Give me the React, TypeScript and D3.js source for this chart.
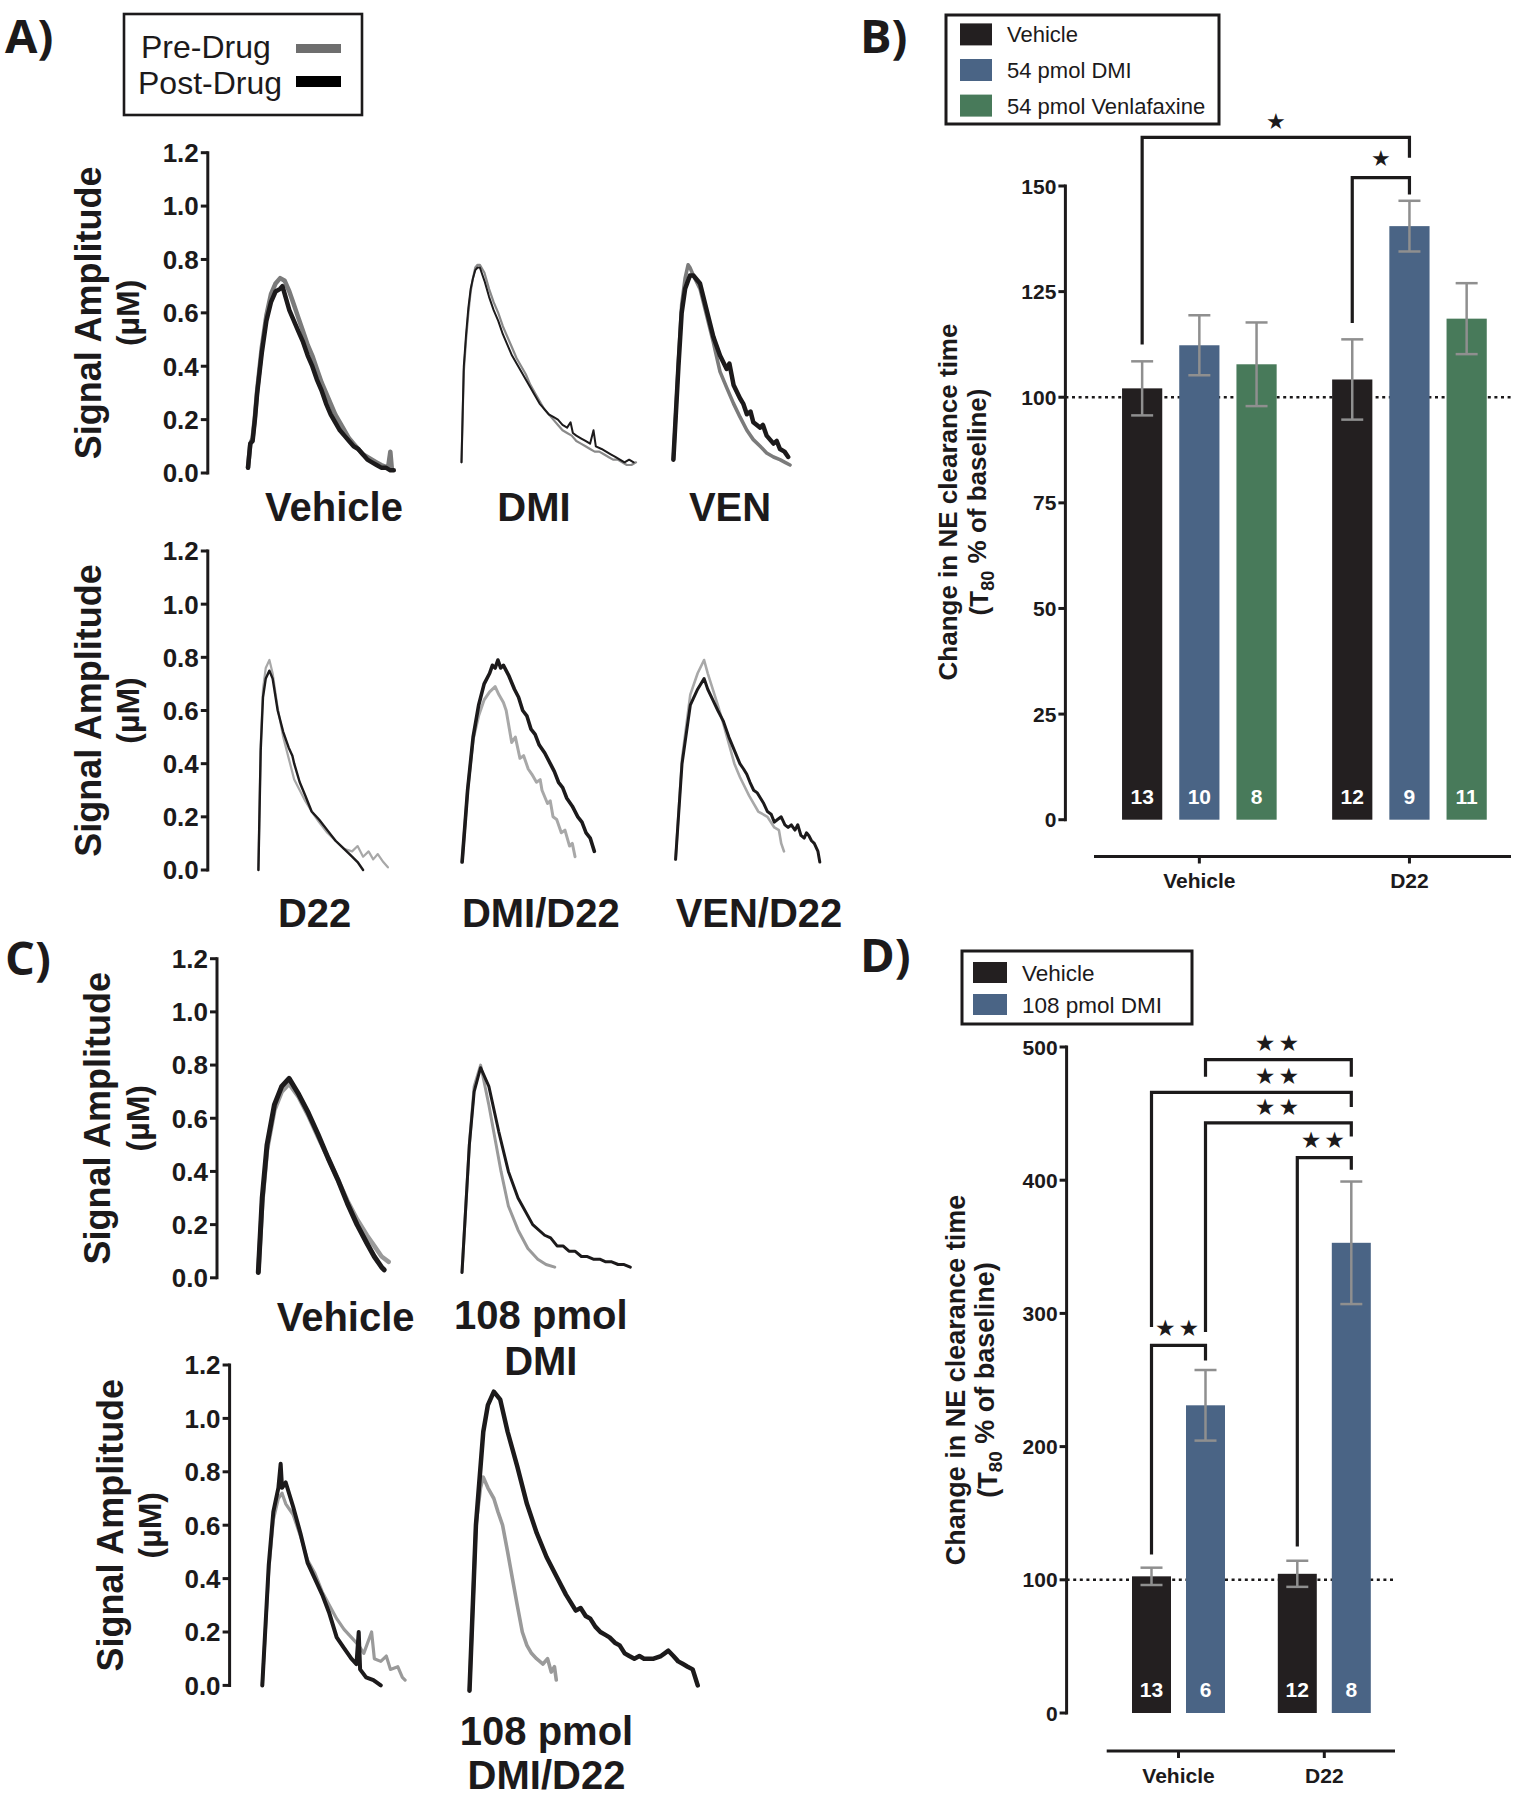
import React from "react";
import * as d3 from "d3";

type Pt = [number, number];

// ---------------- Trace data: [time (s) from trace onset, signal amplitude (µM)] ----------------
// Panel A, top row
const A_VEH_PRE: Pt[] = [[0,0.02],[0.5,0.11],[1,0.13],[1.5,0.21],[2,0.31],[3,0.47],[4,0.59],[5,0.67],[6,0.71],[7,0.73],[8,0.72],[9,0.68],[10,0.63],[11,0.58],[12,0.53],[13,0.48],[14,0.44],[15,0.39],[16,0.34],[17,0.3],[18,0.26],[19,0.22],[20,0.19],[21,0.16],[22,0.13],[23,0.11],[24,0.09],[25,0.07],[26,0.06],[27,0.05],[28,0.04],[29,0.03],[30.5,0.02],[31,0.08],[31.3,0.02]];
const A_VEH_POST: Pt[] = [[0,0.02],[0.5,0.11],[1,0.12],[1.5,0.2],[2,0.3],[3,0.45],[4,0.57],[5,0.64],[6,0.68],[7,0.69],[7.5,0.7],[8,0.67],[9,0.61],[10,0.57],[11,0.53],[12,0.49],[13,0.44],[14,0.4],[15,0.35],[16,0.31],[17,0.26],[18,0.22],[19,0.19],[20,0.16],[21,0.14],[22,0.12],[23,0.1],[24,0.09],[25,0.07],[26,0.05],[27,0.04],[28,0.03],[29,0.02],[30,0.02],[31,0.01],[31.75,0.01]];
const A_DMI_PRE: Pt[] = [[0,0.04],[0.5,0.38],[1,0.5],[1.5,0.6],[2,0.68],[2.5,0.73],[3,0.77],[3.5,0.78],[4,0.78],[5,0.75],[6,0.69],[7,0.64],[8,0.6],[9,0.55],[10,0.51],[11,0.47],[12,0.43],[13,0.4],[14,0.37],[15,0.33],[16,0.3],[17,0.27],[18,0.24],[19,0.22],[20,0.2],[21,0.18],[22,0.16],[23,0.15],[24,0.14],[25,0.12],[26,0.11],[27,0.1],[28,0.09],[29,0.08],[30,0.08],[31,0.07],[32,0.06],[33,0.05],[34,0.05],[35,0.04],[36,0.03],[37,0.03],[38,0.04]];
const A_DMI_POST: Pt[] = [[0,0.04],[0.5,0.4],[1,0.52],[1.5,0.62],[2,0.69],[2.5,0.73],[3,0.76],[3.5,0.77],[4,0.77],[5,0.72],[6,0.66],[7,0.61],[8,0.57],[9,0.52],[10,0.48],[11,0.44],[12,0.41],[13,0.38],[14,0.35],[15,0.32],[16,0.29],[17,0.26],[18,0.24],[19,0.22],[20,0.21],[21,0.2],[22,0.18],[23,0.17],[23.75,0.19],[24.25,0.15],[25,0.14],[26,0.13],[27,0.12],[28,0.11],[28.75,0.16],[29.25,0.1],[30.5,0.09],[31.5,0.08],[32.5,0.07],[33.5,0.06],[34.5,0.05],[35.5,0.04],[36.5,0.05],[37.5,0.04]];
const A_VEN_PRE: Pt[] = [[0,0.05],[1.1,0.42],[1.8,0.63],[2.55,0.73],[3.2,0.78],[3.6,0.77],[4.35,0.74],[5.8,0.69],[7.25,0.59],[8.7,0.49],[10.15,0.38],[11.6,0.32],[13.1,0.26],[14.5,0.21],[16,0.16],[17.4,0.125],[18.9,0.1],[20.3,0.075],[21.8,0.06],[23.2,0.05],[24.3,0.04],[25.4,0.03]];
const A_VEN_POST: Pt[] = [[0,0.05],[1.1,0.4],[1.8,0.6],[2.55,0.69],[3.6,0.74],[4.35,0.74],[5.8,0.71],[7.25,0.61],[8.7,0.51],[10.15,0.44],[11.6,0.39],[12.2,0.41],[13.1,0.33],[14.5,0.28],[15.2,0.26],[16,0.22],[16.8,0.23],[17.4,0.19],[18.9,0.17],[19.5,0.18],[20.3,0.14],[21.8,0.11],[22.5,0.12],[23.2,0.09],[24.2,0.08],[25,0.06]];
// Panel A, bottom row
const A_D22_PRE: Pt[] = [[0,0],[0.5,0.47],[1,0.68],[1.6,0.76],[2.4,0.79],[3.1,0.74],[4.2,0.61],[5.4,0.5],[6.6,0.42],[7.8,0.34],[9,0.3],[10.2,0.26],[11.6,0.22],[13.2,0.18],[15,0.14],[16.8,0.11],[18.6,0.08],[20.4,0.07],[21.6,0.09],[22.8,0.05],[24,0.07],[25,0.04],[26,0.06],[27.2,0.03],[28.2,0.01]];
const A_D22_POST: Pt[] = [[0,0],[0.5,0.45],[1,0.65],[1.6,0.72],[2.4,0.75],[3.1,0.72],[4.2,0.6],[5.4,0.52],[6.6,0.46],[7.4,0.43],[7.8,0.4],[9,0.33],[10.2,0.28],[11.6,0.22],[13.2,0.19],[15,0.15],[16.8,0.11],[18.6,0.08],[20.4,0.05],[21.6,0.03],[22.8,0]];
const A_DMID22_PRE: Pt[] = [[0,0.03],[1.2,0.3],[2.4,0.49],[3.6,0.58],[4.8,0.64],[6,0.67],[7.2,0.69],[8,0.66],[9,0.63],[9.6,0.6],[10.8,0.48],[11.6,0.5],[12.6,0.42],[13.4,0.43],[14.4,0.38],[15.2,0.36],[16.2,0.33],[17,0.34],[17.4,0.3],[18.6,0.25],[19.2,0.26],[19.8,0.2],[20.6,0.19],[21.6,0.14],[22.4,0.15],[23.4,0.09],[24,0.1],[24.6,0.05]];
const A_DMID22_POST: Pt[] = [[0,0.03],[1.2,0.3],[2.4,0.5],[3.6,0.62],[4.8,0.7],[6,0.74],[6.6,0.77],[7.2,0.76],[7.8,0.79],[8.4,0.76],[9,0.77],[10.2,0.73],[11.4,0.68],[12.3,0.65],[13.2,0.6],[14.1,0.58],[15,0.53],[15.9,0.51],[16.8,0.47],[18,0.44],[19.2,0.4],[20.1,0.37],[21,0.33],[21.9,0.31],[22.8,0.27],[24,0.24],[25.2,0.2],[26.1,0.18],[27,0.14],[27.9,0.12],[28.8,0.07]];
const A_VEND22_PRE: Pt[] = [[0,0.04],[1.4,0.42],[3.2,0.66],[4.8,0.74],[6.2,0.79],[7,0.74],[9.2,0.62],[10.4,0.55],[12.8,0.4],[14,0.35],[16,0.28],[18,0.22],[20,0.2],[21.5,0.16],[22.5,0.15],[23,0.1],[23.6,0.07]];
const A_VEND22_POST: Pt[] = [[0,0.04],[1.4,0.4],[3.2,0.62],[4.8,0.68],[6.2,0.72],[7,0.68],[8.1,0.64],[9.2,0.6],[10.4,0.56],[11.6,0.5],[12.8,0.45],[14,0.4],[14.8,0.38],[15.5,0.36],[16.2,0.33],[17,0.3],[17.8,0.29],[18.5,0.27],[19.2,0.25],[20,0.22],[20.8,0.21],[21.5,0.18],[22.2,0.19],[23,0.2],[23.8,0.17],[24.5,0.16],[25.2,0.17],[26,0.15],[26.6,0.17],[27.3,0.13],[28,0.12],[28.5,0.14],[29,0.13],[29.6,0.11],[30.2,0.1],[31,0.07],[31.4,0.03]];
// Panel C, top row
const C_VEH_PRE: Pt[] = [[0,0.02],[0.85,0.28],[1.9,0.48],[3.5,0.63],[5.1,0.7],[6.7,0.73],[8.8,0.68],[10.9,0.61],[13,0.53],[15.2,0.45],[17.3,0.37],[19.4,0.29],[21.5,0.22],[23.65,0.16],[25.25,0.12],[26.85,0.08],[28.4,0.06]];
const C_VEH_POST: Pt[] = [[0,0.02],[0.85,0.3],[1.9,0.5],[3.5,0.65],[5.1,0.72],[6.7,0.75],[8.8,0.69],[10.9,0.62],[13,0.54],[15.2,0.45],[17.3,0.37],[19.4,0.28],[21.5,0.2],[23.65,0.13],[25.25,0.08],[26.85,0.04],[27.4,0.03]];
const C_DMI_PRE: Pt[] = [[0,0.02],[1.6,0.5],[2.65,0.72],[4.05,0.8],[5.85,0.65],[6.9,0.55],[8.5,0.4],[10.1,0.27],[12.2,0.18],[14.35,0.11],[16.5,0.07],[18.3,0.05],[20.2,0.04]];
const C_DMI_POST: Pt[] = [[0,0.02],[1.6,0.5],[2.65,0.7],[4.05,0.79],[5.85,0.72],[8,0.55],[10.1,0.4],[12.2,0.3],[15.4,0.2],[18,0.16],[19.3,0.15],[20.7,0.12],[22,0.12],[23.3,0.1],[24.6,0.1],[26,0.08],[27.3,0.08],[28.6,0.07],[30,0.07],[31.3,0.06],[32.6,0.06],[34,0.05],[35.3,0.05],[36.65,0.04]];
// Panel C, bottom row
const C_D22_PRE: Pt[] = [[0,0],[1.4,0.43],[2.4,0.62],[3.5,0.7],[4.3,0.72],[5.1,0.68],[6.7,0.64],[8.3,0.56],[9.85,0.47],[11.45,0.42],[13.05,0.35],[14.6,0.3],[16.2,0.25],[17.8,0.21],[19.4,0.18],[21,0.15],[22.1,0.12],[23.8,0.2],[24.4,0.1],[25.8,0.09],[27,0.11],[27.9,0.06],[29.5,0.07],[30.5,0.03],[31.1,0.02]];
const C_D22_POST: Pt[] = [[0,0],[1.4,0.45],[2.4,0.65],[3.5,0.74],[4,0.83],[4.3,0.74],[5.1,0.76],[6.7,0.67],[8.3,0.57],[9.85,0.46],[11.45,0.4],[13.05,0.34],[14.6,0.27],[16.2,0.18],[17.8,0.14],[19.4,0.1],[20.5,0.08],[21,0.2],[21.3,0.06],[22.6,0.03],[24.2,0.02],[25.8,0]];
const C_DMID22_PRE: Pt[] = [[0,-0.02],[1.4,0.6],[2.4,0.74],[3,0.78],[4,0.74],[5.3,0.7],[6.2,0.65],[7.2,0.6],[8.3,0.5],[9.35,0.4],[10.4,0.3],[11.5,0.2],[12.5,0.15],[13.5,0.12],[14.6,0.1],[16,0.08],[17,0.1],[17.8,0.05],[18.5,0.07],[18.9,0.02]];
const C_DMID22_POST: Pt[] = [[0,-0.02],[1.4,0.6],[3,0.95],[4,1.05],[5.3,1.1],[6.7,1.07],[8.3,0.95],[10.4,0.82],[12.5,0.68],[14.65,0.57],[16.8,0.48],[18.9,0.41],[21,0.34],[23.15,0.28],[24.2,0.29],[25.3,0.26],[26.3,0.25],[27.4,0.22],[28.5,0.2],[29.5,0.19],[30.5,0.18],[31.65,0.16],[32.7,0.15],[33.8,0.12],[34.8,0.11],[35.9,0.1],[37,0.11],[38,0.1],[39,0.1],[40.1,0.1],[41.7,0.11],[42.5,0.12],[43.3,0.13],[44.4,0.11],[45.45,0.09],[46.5,0.08],[47.5,0.07],[48.6,0.06],[49.7,0]];

const AMP_TICKS = [0, 0.2, 0.4, 0.6, 0.8, 1.0, 1.2];

// ---------------- Bar data ----------------
const B_GROUPS = ["Vehicle", "D22"];
const B_SERIES = ["Vehicle", "54 pmol DMI", "54 pmol Venlafaxine"];
const B_MEAN = [[102.1, 112.3, 107.8], [104.2, 140.5, 118.6]];
const B_SEM = [[6.4, 7.1, 9.9], [9.5, 6.0, 8.4]];
const B_N = [[13, 10, 8], [12, 9, 11]];
const B_TICKS = [0, 25, 50, 75, 100, 125, 150];

const D_GROUPS = ["Vehicle", "D22"];
const D_SERIES = ["Vehicle", "108 pmol DMI"];
const D_MEAN = [[102.6, 231], [104.5, 353]];
const D_SEM = [[6.5, 26.5], [9.8, 46]];
const D_N = [[13, 6], [12, 8]];
const D_TICKS = [0, 100, 200, 300, 400, 500];

type Bracket = { a: [number, number]; b: [number, number]; top: number; aEnd: number; bEnd: number; label: string; labelY: number; center?: [[number, number], [number, number]] };
const B_BRACKETS: Bracket[] = [
  { a: [0, 0], b: [1, 1], top: 161.5, aEnd: 112.5, bEnd: 156.7, label: "★", labelY: 165.3 },
  { a: [1, 0], b: [1, 1], top: 152, aEnd: 117.6, bEnd: 148, label: "★", labelY: 156.6 },
];
const D_BRACKETS: Bracket[] = [
  { a: [0, 1], b: [1, 1], top: 490.5, aEnd: 477.6, bEnd: 477.6, label: "★★", labelY: 503 },
  { a: [0, 0], b: [1, 1], top: 466, aEnd: 289.7, bEnd: 455, label: "★★", labelY: 478, center: [[0, 1], [1, 1]] },
  { a: [0, 1], b: [1, 1], top: 443, aEnd: 286, bEnd: 432.8, label: "★★", labelY: 455 },
  { a: [1, 0], b: [1, 1], top: 417, aEnd: 125, bEnd: 407.8, label: "★★", labelY: 430 },
  { a: [0, 0], b: [0, 1], top: 276, aEnd: 119, bEnd: 264.7, label: "★★", labelY: 289 },
];

// ---------------- Styling ----------------
const W = 1519, H = 1800;
const SANS = "'Liberation Sans', Arial, Helvetica, sans-serif";
const LETTER = "'Open Sans', 'Liberation Sans', sans-serif";
const INK = "#1c1a1b";
const PX_PER_S = 4.592;
const BLACK_BAR = "#231f20", BLUE_BAR = "#4a6485", GREEN_BAR = "#487a5a";
const ERR = "#8f8f8f";

type Trace = { x0: number; pre: Pt[]; post: Pt[]; preColor: string; preW: number; postW: number };
type Label = { x: number; y: number; text: string };

function TraceRow({ axisX, yBottom, yTop, traces, labels }: { axisX: number; yBottom: number; yTop: number; traces: Trace[]; labels: Label[] }) {
  const y = d3.scaleLinear().domain([0, 1.2]).range([yBottom, yTop]);
  const midY = (yBottom + yTop) / 2;
  return (
    <g>
      <line x1={axisX} x2={axisX} y1={y(0) + 1.5} y2={y(1.2) - 1.5} stroke={INK} strokeWidth={3} />
      {AMP_TICKS.map((t) => (
        <g key={t}>
          <line x1={axisX - 7} x2={axisX} y1={y(t)} y2={y(t)} stroke={INK} strokeWidth={3} />
          <text x={axisX - 9} y={y(t)} dy="0.36em" textAnchor="end" fontSize={26} fontWeight={700} fill={INK}>{t.toFixed(1)}</text>
        </g>
      ))}
      <text transform={`translate(${axisX - 120},${midY}) rotate(-90)`} textAnchor="middle" dy="0.36em" fontSize={36} fontWeight={700} fill={INK}>Signal Amplitude</text>
      <text transform={`translate(${axisX - 80},${midY}) rotate(-90)`} textAnchor="middle" dy="0.36em" fontSize={32} fontWeight={700} fill={INK}>(µM)</text>
      {traces.map((tr, i) => {
        const x = d3.scaleLinear().domain([0, 1]).range([tr.x0, tr.x0 + PX_PER_S]);
        const line = d3.line<Pt>().x((d) => x(d[0])).y((d) => y(d[1]));
        return (
          <g key={i} fill="none" strokeLinejoin="round" strokeLinecap="round">
            <path d={line(tr.pre) || ""} stroke={tr.preColor} strokeWidth={tr.preW} />
            <path d={line(tr.post) || ""} stroke={INK} strokeWidth={tr.postW} />
          </g>
        );
      })}
      {labels.map((l, i) => (
        <text key={i} x={l.x} y={l.y} textAnchor="middle" fontSize={40} fontWeight={700} fill={INK}>{l.text}</text>
      ))}
    </g>
  );
}

type BarProps = {
  axisX: number; y0: number; yTopPx: number; yMax: number; ticks: number[];
  groups: string[]; series: string[]; mean: number[][]; sem: number[][]; n: number[][];
  colors: string[]; groupRange: [number, number]; pIn: number; pOut: number;
  brackets: Bracket[]; xAxisY: number; xAxisRange: [number, number]; dotEnd: number;
  nY: number; starSize: number; starSpacing: number;
};

function BarPanel(p: BarProps) {
  const y = d3.scaleLinear().domain([0, p.yMax]).range([p.y0, p.yTopPx]);
  const gx = d3.scaleBand().domain(p.groups).range(p.groupRange).padding(0);
  const sx = d3.scaleBand().domain(p.series).range([0, gx.bandwidth()]).paddingInner(p.pIn).paddingOuter(p.pOut);
  const bw = sx.bandwidth();
  const cx = (g: number, s: number) => (gx(p.groups[g]) as number) + (sx(p.series[s]) as number) + bw / 2;
  return (
    <g>
      <line x1={p.axisX} x2={p.dotEnd} y1={y(100)} y2={y(100)} stroke={INK} strokeWidth={2.6} strokeDasharray="3 3.6" />
      {p.groups.map((g, gi) =>
        p.series.map((s, si) => {
          const v = p.mean[gi][si], e = p.sem[gi][si];
          const x = cx(gi, si);
          return (
            <g key={g + s}>
              <rect x={x - bw / 2} y={y(v)} width={bw} height={y(0) - y(v)} fill={p.colors[si]} />
              <line x1={x} x2={x} y1={y(v + e)} y2={y(v - e)} stroke={ERR} strokeWidth={2.5} />
              <line x1={x - 11} x2={x + 11} y1={y(v + e)} y2={y(v + e)} stroke={ERR} strokeWidth={2.5} />
              <line x1={x - 11} x2={x + 11} y1={y(v - e)} y2={y(v - e)} stroke={ERR} strokeWidth={2.5} />
              <text x={x} y={p.nY} dy="0.36em" textAnchor="middle" fontSize={21} fontWeight={700} fill="#fff">{p.n[gi][si]}</text>
            </g>
          );
        })
      )}
      <line x1={p.axisX} x2={p.axisX} y1={y(0) + 1.5} y2={y(p.yMax) - 1.5} stroke={INK} strokeWidth={3} />
      {p.ticks.map((t) => (
        <g key={t}>
          <line x1={p.axisX - 7} x2={p.axisX} y1={y(t)} y2={y(t)} stroke={INK} strokeWidth={3} />
          <text x={p.axisX - 9} y={y(t)} dy="0.36em" textAnchor="end" fontSize={21} fontWeight={700} fill={INK}>{t}</text>
        </g>
      ))}
      <line x1={p.xAxisRange[0]} x2={p.xAxisRange[1]} y1={p.xAxisY} y2={p.xAxisY} stroke={INK} strokeWidth={3} />
      {p.groups.map((g) => {
        const x = (gx(g) as number) + gx.bandwidth() / 2;
        return (
          <g key={g}>
            <line x1={x} x2={x} y1={p.xAxisY} y2={p.xAxisY + 7} stroke={INK} strokeWidth={3} />
            <text x={x} y={p.xAxisY + 24} dy="0.36em" textAnchor="middle" fontSize={21} fontWeight={700} fill={INK}>{g}</text>
          </g>
        );
      })}
      {p.brackets.map((b, i) => {
        const xa = cx(b.a[0], b.a[1]), xb = cx(b.b[0], b.b[1]);
        const mid = b.center ? (cx(b.center[0][0], b.center[0][1]) + cx(b.center[1][0], b.center[1][1])) / 2 : (xa + xb) / 2;
        return (
          <g key={i}>
            <path d={`M${xa},${y(b.aEnd)}V${y(b.top)}H${xb}V${y(b.bEnd)}`} fill="none" stroke={INK} strokeWidth={3.2} />
            <text x={mid} y={y(b.labelY)} dy="0.35em" textAnchor="middle" fontSize={p.starSize} letterSpacing={p.starSpacing} fontFamily="'DejaVu Sans', sans-serif" fill={INK}>{b.label}</text>
          </g>
        );
      })}
    </g>
  );
}

function YTitle({ x1, x2, y, size }: { x1: number; x2: number; y: number; size: number }) {
  return (
    <g fontWeight={700} fill={INK} fontSize={size}>
      <text transform={`translate(${x1},${y}) rotate(-90)`} textAnchor="middle" dy="0.36em">Change in NE clearance time</text>
      <text transform={`translate(${x2},${y}) rotate(-90)`} textAnchor="middle" dy="0.36em">
        (T<tspan fontSize={size * 0.7} dy="0.3em">80</tspan><tspan dy="-0.3em"> % of baseline)</tspan>
      </text>
    </g>
  );
}

function Legend({ x, y, w, h, items, sw, swH, textX, rowY, size }: { x: number; y: number; w: number; h: number; items: { label: string; color: string }[]; sw: [number, number]; swH: number; textX: number; rowY: number[]; size: number }) {
  return (
    <g>
      <rect x={x} y={y} width={w} height={h} fill="#fff" stroke={INK} strokeWidth={3} />
      {items.map((it, i) => (
        <g key={it.label}>
          <rect x={sw[0]} y={rowY[i] - swH / 2} width={sw[1] - sw[0]} height={swH} fill={it.color} />
          <text x={textX} y={rowY[i]} dy="0.36em" fontSize={size} fill={INK}>{it.label}</text>
        </g>
      ))}
    </g>
  );
}

export default function App() {
  const grayA = "#7b7b7b", grayB = "#a8a8a8", grayC = "#9a9a9a";
  return (
    <div style={{ position: "absolute", left: 0, top: 0, width: W, height: H, background: "#fff" }}>
      <svg width={W} height={H} viewBox={`0 0 ${W} ${H}`} style={{ display: "block", fontFamily: SANS }}>
        <rect width={W} height={H} fill="#fff" />
        {/* Panel letters */}
        <g fontFamily={LETTER} fontWeight={700} fontSize={47} fill={INK}>
          <text x={5} y={53}>A)</text>
          <text x={860} y={53}>B)</text>
          <text x={5} y={975}>C)</text>
          <text x={860} y={972}>D)</text>
        </g>

        {/* Legend A */}
        <rect x={124} y={14} width={238} height={101} fill="#fff" stroke={INK} strokeWidth={2.6} />
        <text x={141} y={46} dy="0.36em" fontSize={32} fill={INK}>Pre-Drug</text>
        <text x={138} y={82.5} dy="0.36em" fontSize={32} fill={INK}>Post-Drug</text>
        <rect x={296} y={44} width={45} height={9} fill="#6e6e6e" />
        <rect x={296} y={76} width={45} height={11} fill="#000" />

        <TraceRow axisX={207.8} yBottom={473} yTop={152.7}
          traces={[
            { x0: 248, pre: A_VEH_PRE, post: A_VEH_POST, preColor: grayA, preW: 4.5, postW: 4.5 },
            { x0: 461.5, pre: A_DMI_PRE, post: A_DMI_POST, preColor: "#8a8a8a", preW: 2.2, postW: 2 },
            { x0: 673.4, pre: A_VEN_PRE, post: A_VEN_POST, preColor: grayA, preW: 3.6, postW: 4.5 },
          ]}
          labels={[{ x: 334, y: 521, text: "Vehicle" }, { x: 534, y: 521, text: "DMI" }, { x: 730, y: 521, text: "VEN" }]} />

        <TraceRow axisX={207.8} yBottom={870} yTop={551}
          traces={[
            { x0: 258.4, pre: A_D22_PRE, post: A_D22_POST, preColor: grayB, preW: 2.2, postW: 2.4 },
            { x0: 462.1, pre: A_DMID22_PRE, post: A_DMID22_POST, preColor: grayB, preW: 3, postW: 3.6 },
            { x0: 675.6, pre: A_VEND22_PRE, post: A_VEND22_POST, preColor: grayB, preW: 2.6, postW: 3 },
          ]}
          labels={[{ x: 314.6, y: 927, text: "D22" }, { x: 540.8, y: 927, text: "DMI/D22" }, { x: 759, y: 927, text: "VEN/D22" }]} />

        <TraceRow axisX={217} yBottom={1277.8} yTop={958.7}
          traces={[
            { x0: 258.3, pre: C_VEH_PRE, post: C_VEH_POST, preColor: grayC, preW: 4.5, postW: 5 },
            { x0: 462, pre: C_DMI_PRE, post: C_DMI_POST, preColor: grayC, preW: 3, postW: 3 },
          ]}
          labels={[{ x: 345.6, y: 1331, text: "Vehicle" }, { x: 540.8, y: 1329, text: "108 pmol" }, { x: 540.8, y: 1375, text: "DMI" }]} />

        <TraceRow axisX={229.6} yBottom={1685.4} yTop={1365}
          traces={[
            { x0: 262.3, pre: C_D22_PRE, post: C_D22_POST, preColor: grayC, preW: 3.2, postW: 4 },
            { x0: 469.5, pre: C_DMID22_PRE, post: C_DMID22_POST, preColor: grayC, preW: 3.6, postW: 4.5 },
          ]}
          labels={[{ x: 546.5, y: 1745, text: "108 pmol" }, { x: 546.5, y: 1789, text: "DMI/D22" }]} />

        {/* Panel B */}
        <Legend x={946} y={15} w={273} h={109}
          items={B_SERIES.map((s, i) => ({ label: s, color: [BLACK_BAR, BLUE_BAR, GREEN_BAR][i] }))}
          sw={[960, 992]} swH={22} textX={1007} rowY={[34.4, 70, 105.6]} size={22} />
        <YTitle x1={948} x2={979} y={502} size={26} />
        <BarPanel axisX={1065.4} y0={819.7} yTopPx={186} yMax={150} ticks={B_TICKS}
          groups={B_GROUPS} series={B_SERIES} mean={B_MEAN} sem={B_SEM} n={B_N}
          colors={[BLACK_BAR, BLUE_BAR, GREEN_BAR]} groupRange={[1094.3, 1514.5]} pIn={0.297} pOut={0.485}
          brackets={B_BRACKETS} xAxisY={856.5} xAxisRange={[1094, 1511]} dotEnd={1511}
          nY={796.8} starSize={22} starSpacing={0} />

        {/* Panel D */}
        <Legend x={962} y={951} w={230} h={73}
          items={D_SERIES.map((s, i) => ({ label: s, color: [BLACK_BAR, BLUE_BAR][i] }))}
          sw={[973, 1007]} swH={21} textX={1022} rowY={[972.5, 1004.5]} size={22.5} />
        <YTitle x1={955} x2={987} y={1380} size={27} />
        <BarPanel axisX={1066.6} y0={1713} yTopPx={1047} yMax={500} ticks={D_TICKS}
          groups={D_GROUPS} series={D_SERIES} mean={D_MEAN} sem={D_SEM} n={D_N}
          colors={[BLACK_BAR, BLUE_BAR]} groupRange={[1105.6, 1397.2]} pIn={0.278} pOut={0.489}
          brackets={D_BRACKETS} xAxisY={1751} xAxisRange={[1106.7, 1395]} dotEnd={1396}
          nY={1689} starSize={23} starSpacing={3} />
      </svg>
    </div>
  );
}
